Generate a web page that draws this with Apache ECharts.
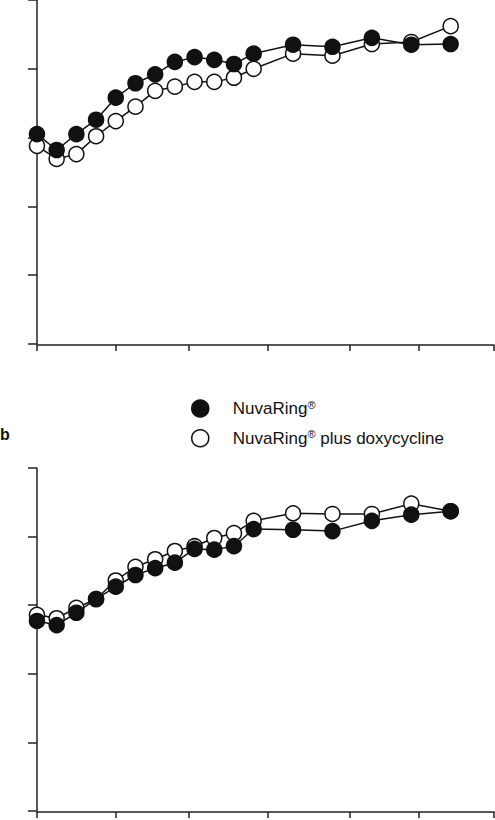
<!DOCTYPE html>
<html>
<head>
<meta charset="utf-8">
<script src="https://cdn.jsdelivr.net/npm/echarts@6/dist/echarts.min.js"></script>
<style>html,body{margin:0;padding:0;background:#fff}#chart{width:495px;height:820px}</style>
</head>
<body>
<div id="chart"></div>
<script>
var weeks = [0, 1, 2, 3, 4, 5, 6, 7, 8, 9, 10, 11, 13, 15, 17, 19, 21];
var aRing = [3.05, 2.82, 3.05, 3.26, 3.58, 3.79, 3.92, 4.10, 4.17, 4.13, 4.07, 4.22, 4.35, 4.32, 4.45, 4.35, 4.36];
var aDoxy = [2.88, 2.69, 2.76, 3.02, 3.24, 3.45, 3.68, 3.74, 3.81, 3.81, 3.87, 4.00, 4.22, 4.19, 4.36, 4.39, 4.62];
var bRing = [2.77, 2.71, 2.89, 3.09, 3.27, 3.44, 3.54, 3.62, 3.82, 3.81, 3.86, 4.11, 4.10, 4.08, 4.23, 4.32, 4.37];
var bDoxy = [2.86, 2.81, 2.96, 3.09, 3.36, 3.56, 3.67, 3.79, 3.86, 3.98, 4.05, 4.23, 4.34, 4.33, 4.33, 4.48, 4.37];
var xTicks = [0, 4, 7.7, 11.7, 15.9, 19.4, 23.2];
var yTicks = [0, 1, 2, 3, 4, 5];

function pairs(ys) { return weeks.map(function (w, i) { return [w, ys[i]]; }); }

var chart = echarts.init(document.getElementById('chart'), null, { renderer: 'svg' });
var ln = { color: '#222', width: 1.5 };
var hidden = { show: false };

// grids 0,1: data + y axis (starting at x=9); grids 2,3: x axis only (starting at x=37)
function dataX(i) {
  return { type: 'value', gridIndex: i, min: -1.42, max: 23.2, show: false };
}
function tickX(i) {
  return {
    type: 'value', gridIndex: i, min: 0, max: 23.2,
    axisLine: { lineStyle: ln }, splitLine: hidden, axisLabel: hidden,
    axisTick: { length: 6, lineStyle: ln, customValues: xTicks }
  };
}
function dataY(i) {
  return {
    type: 'value', gridIndex: i, min: 0, max: 5,
    axisLine: { show: true, lineStyle: ln },
    splitLine: hidden, axisLabel: hidden,
    axisTick: { show: true, length: 9, lineStyle: ln, customValues: yTicks }
  };
}
function tickY(i) {
  return { type: 'value', gridIndex: i, min: 0, max: 5, show: false };
}
function ser(name, data, i, filled) {
  return {
    name: name, type: 'line', xAxisIndex: i, yAxisIndex: i, data: pairs(data),
    symbol: 'circle', symbolSize: 15, z: filled ? 3 : 2,
    lineStyle: { color: '#111', width: 1.5 },
    itemStyle: { color: filled ? '#111' : '#fff', borderColor: '#111', borderWidth: 1.5 }
  };
}

var n1 = 'NuvaRing{s|®}';
var n2 = 'NuvaRing{s|®} plus doxycycline';
var font = 'Liberation Sans, Arial, sans-serif';

chart.setOption({
  animation: false,
  grid: [
    { left: 9, right: 1, top: 0, height: 344 },
    { left: 9, right: 1, top: 468, height: 343 },
    { left: 37, right: 1, top: 0, height: 345 },
    { left: 37, right: 1, top: 468, height: 344 }
  ],
  xAxis: [dataX(0), dataX(1), tickX(2), tickX(3)],
  yAxis: [dataY(0), dataY(1), tickY(2), tickY(3)],
  legend: {
    orient: 'vertical', left: 186, top: 394, itemGap: 11,
    itemWidth: 17, itemHeight: 17,
    data: [
      { name: n1, icon: 'circle', itemStyle: { color: '#111', borderColor: '#111', borderWidth: 1.5 } },
      { name: n2, icon: 'circle', itemStyle: { color: '#fff', borderColor: '#111', borderWidth: 1.5 } }
    ],
    textStyle: {
      fontFamily: font, fontSize: 17, color: '#111', padding: [0, 0, 0, 19],
      rich: { s: { fontSize: 11, verticalAlign: 'top', padding: [0, 0, 8, 0], fontFamily: font, color: '#111' } }
    }
  },
  graphic: [
    { type: 'text', left: 0, top: 426, style: { text: 'b', font: 'bold 16px ' + font, fill: '#111' } }
  ],
  series: [
    ser(n2, aDoxy, 0, false),
    ser(n1, aRing, 0, true),
    ser(n2, bDoxy, 1, false),
    ser(n1, bRing, 1, true)
  ]
});
</script>
</body>
</html>
